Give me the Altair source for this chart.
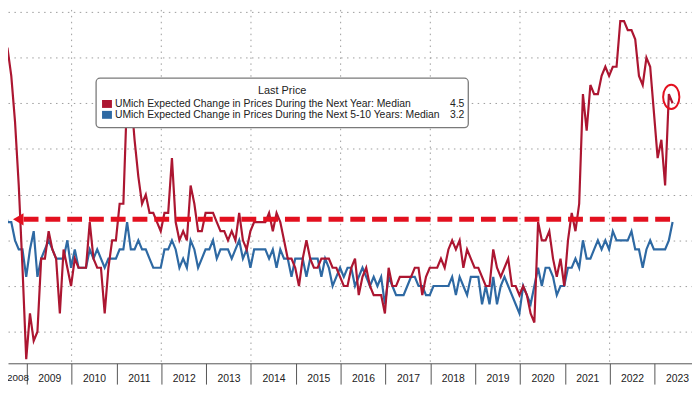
import altair as alt
import pandas as pd

# ---------------- data (monthly, May 2008 .. May 2023) ----------------
first_year, first_month = 2008, 5

next_year_median = [
    5.2, 5.1, 5.1, 4.8, 4.3, 3.6, 2.7, 1.7,                      # 2008 May-Dec
    2.2, 1.9, 2.0, 2.8, 2.8, 3.1, 2.9, 2.8, 2.2, 2.9, 2.7, 2.5,  # 2009
    2.8, 2.7, 2.7, 2.7, 3.2, 2.8, 2.7, 2.7, 2.2, 2.7, 3.0, 3.0,  # 2010
    3.4, 3.4, 4.6, 4.6, 4.1, 3.7, 3.4, 3.5, 3.3, 3.3, 3.2, 3.1,  # 2011
    3.3, 3.3, 3.9, 3.2, 3.0, 3.1, 3.0, 3.6, 3.4, 3.1, 3.1, 3.3,  # 2012
    3.3, 3.3, 3.2, 3.1, 3.1, 3.0, 3.1, 3.0, 3.3, 3.0, 2.9, 3.1,  # 2013
    3.2, 3.2, 3.2, 3.2, 3.3, 3.1, 3.3, 3.2, 3.0, 2.8, 2.8, 2.7,  # 2014
    2.5, 2.8, 3.0, 2.8, 2.7, 2.7, 2.8, 2.8, 2.8, 2.7, 2.7, 2.6,  # 2015
    2.5, 2.5, 2.7, 2.8, 2.4, 2.6, 2.7, 2.5, 2.4, 2.4, 2.4, 2.2,  # 2016
    2.7, 2.5, 2.5, 2.6, 2.6, 2.6, 2.6, 2.7, 2.7, 2.4, 2.6, 2.7,  # 2017
    2.7, 2.7, 2.8, 2.7, 2.9, 3.0, 2.9, 3.0, 2.7, 2.9, 2.8, 2.7,  # 2018
    2.7, 2.6, 2.5, 2.5, 2.9, 2.7, 2.6, 2.7, 2.8, 2.5, 2.5, 2.4,  # 2019
    2.5, 2.4, 2.2, 2.1, 3.2, 3.0, 3.0, 3.1, 2.8, 2.6, 2.8, 2.5,  # 2020
    3.0, 3.3, 3.1, 3.4, 4.6, 4.2, 4.7, 4.6, 4.6, 4.8, 4.9, 4.8,  # 2021
    4.9, 4.9, 5.4, 5.4, 5.3, 5.3, 5.2, 4.8, 4.7, 5.0, 4.9, 4.4,  # 2022
    3.9, 4.1, 3.6, 4.6, 4.5,                                     # 2023 Jan-May
]

next_5_10_years_median = [
    3.4, 3.4, 3.2, 3.2, 3.0, 2.9, 2.9, 2.6,                      # 2008 May-Dec
    2.9, 3.1, 2.6, 2.8, 2.9, 3.0, 2.9, 2.8, 2.8, 2.8, 3.0, 2.7,  # 2009
    2.9, 2.7, 2.7, 2.7, 2.9, 2.8, 2.9, 2.8, 2.7, 2.8, 2.8, 2.8,  # 2010
    2.9, 2.9, 3.2, 2.9, 2.9, 3.0, 2.9, 2.9, 2.8, 2.7, 2.7, 2.7,  # 2011
    2.9, 2.9, 3.0, 2.9, 2.7, 2.8, 2.7, 3.0, 2.9, 2.7, 2.8, 2.9,  # 2012
    2.9, 3.0, 2.8, 2.9, 2.9, 2.9, 2.8, 2.9, 3.0, 2.8, 2.9, 2.7,  # 2013
    2.9, 2.9, 2.9, 2.9, 2.8, 2.9, 2.7, 2.9, 2.8, 2.8, 2.6, 2.8,  # 2014
    2.8, 2.8, 2.6, 2.8, 2.8, 2.8, 2.6, 2.8, 2.7, 2.5, 2.6, 2.7,  # 2015
    2.6, 2.7, 2.7, 2.5, 2.6, 2.7, 2.6, 2.5, 2.6, 2.5, 2.6, 2.3,  # 2016
    2.6, 2.5, 2.4, 2.4, 2.4, 2.5, 2.6, 2.6, 2.5, 2.5, 2.4, 2.4,  # 2017
    2.5, 2.5, 2.5, 2.5, 2.5, 2.6, 2.4, 2.6, 2.5, 2.4, 2.6, 2.6,  # 2018
    2.6, 2.3, 2.5, 2.3, 2.6, 2.3, 2.5, 2.6, 2.5, 2.4, 2.3, 2.2,  # 2019
    2.5, 2.4, 2.3, 2.5, 2.7, 2.5, 2.7, 2.7, 2.6, 2.4, 2.5, 2.5,  # 2020
    2.7, 2.7, 2.8, 2.7, 3.0, 2.8, 2.8, 2.9, 3.0, 2.9, 3.0, 2.9,  # 2021
    3.1, 3.0, 3.0, 3.0, 3.0, 3.1, 2.9, 2.9, 2.7, 2.9, 3.0, 2.9,  # 2022
    2.9, 2.9, 2.9, 3.0, 3.2,                                     # 2023 Jan-May
]

year_labels = list(range(2008, 2024))
grid_years = [2010, 2012, 2014, 2016, 2018, 2020, 2022]
grid_levels = [2.0, 2.5, 3.0, 3.5, 4.0, 4.5, 5.0, 5.5]

annotation_level = 3.23          # hand-drawn dashed line
annotation_start = 2008.81
annotation_end = 2023.35
circle_level = 4.57

series_names = [
    "UMich Expected Change in Prices During the Next Year: Median",
    "UMich Expected Change in Prices During the Next 5-10 Years: Median",
]

RED = "#AC1631"
BLUE = "#2E69A3"
ANNOT = "#E3101F"
GRID = "#9c9c9c"
FONT = "Liberation Sans"

W, H = 691, 357

# ---------------- tables ----------------
rows = []
for i, (r, b) in enumerate(zip(next_year_median, next_5_10_years_median)):
    m = (first_month - 1) + i
    year = first_year + m // 12
    month = m % 12 + 1
    rows.append({"t": year + (month - 0.15) / 12, "red": r, "blue": b})
df = pd.DataFrame(rows)
last_t = df["t"].iloc[-1]

xscale = alt.Scale(domain=[2008.581, 2023.837], nice=False, zero=False)
yscale = alt.Scale(domain=[1.654, 5.522], nice=False, zero=False)

x_axis = alt.Axis(
    values=year_labels, grid=False, title=None, format="d",
    tickSize=21, tickColor="#555555", tickWidth=1,
    domainColor="#555555", domainWidth=1,
    labelOffset=22.7, labelPadding=-11, labelFontSize=10.5, labelFont=FONT,
    labelColor="#222222", labelFlush=False, labelOverlap=False, labelBound=False,
)
y_axis = alt.Axis(
    values=grid_levels, grid=True, gridColor=GRID, gridDash=[1.5, 4.5], gridWidth=1,
    labels=False, ticks=False, domain=False, title=None,
)


def X(field):
    return alt.X(field, type="quantitative", scale=xscale, axis=x_axis)


def Y(field):
    return alt.Y(field, type="quantitative", scale=yscale, axis=y_axis)


vgrid = alt.Chart(pd.DataFrame({"t": grid_years})).mark_rule(
    color=GRID, strokeDash=[1.5, 4.5], strokeWidth=1
).encode(x=X("t"))

blue_line = alt.Chart(df).mark_line(color=BLUE, strokeWidth=2.2, clip=True).encode(
    x=X("t"), y=Y("blue"),
)
red_line = alt.Chart(df).mark_line(color=RED, strokeWidth=2.2, clip=True).encode(
    x=X("t"), y=Y("red"),
)

dash_df = pd.DataFrame({"t0": [annotation_start + 0.12], "t1": [annotation_end], "v": [annotation_level]})
dashed = alt.Chart(dash_df).mark_rule(color=ANNOT, strokeWidth=5, strokeDash=[15, 7]).encode(
    x=X("t0"), x2="t1:Q", y=Y("v"),
)
arrow = alt.Chart(pd.DataFrame({"t": [annotation_start], "v": [annotation_level]})).mark_point(
    shape="triangle-left", filled=True, color=ANNOT, size=150, opacity=1
).encode(x=X("t"), y=Y("v"))

ellipse = "M0,-1 A0.67,1 0 1,1 0,1 A0.67,1 0 1,1 0,-1 Z"
ring = alt.Chart(pd.DataFrame({"t": [last_t - 0.03], "v": [circle_level]})).mark_point(
    shape=ellipse, filled=False, color=ANNOT, strokeWidth=2, size=600, opacity=1
).encode(x=X("t"), y=Y("v"))

# first year label: its slot lies left of the visible domain, so it is pinned
# to the left edge of the frame, as in the source image
first_label = alt.Chart(pd.DataFrame({"lab": [str(year_labels[0])]})).mark_text(
    font=FONT, fontSize=10, color="#222222", align="left", baseline="top"
).encode(x=alt.value(-1), y=alt.value(H + 10), text="lab:N")

one = pd.DataFrame({"a": [0]})
legend_box = alt.Chart(one).mark_rect(
    fill="white", stroke="#7a7a7a", strokeWidth=1.3, cornerRadius=4
).encode(x=alt.value(89), x2=alt.value(465), y=alt.value(69), y2=alt.value(119))
legend_title = alt.Chart(one).mark_text(
    font=FONT, fontSize=11, color="#222222", align="center", baseline="middle"
).encode(x=alt.value(277), y=alt.value(82), text=alt.value("Last Price"))
sq_red = alt.Chart(one).mark_rect(fill=RED).encode(
    x=alt.value(95), x2=alt.value(105), y=alt.value(91), y2=alt.value(99))
sq_blue = alt.Chart(one).mark_rect(fill=BLUE).encode(
    x=alt.value(95), x2=alt.value(105), y=alt.value(102), y2=alt.value(110))
lab1 = alt.Chart(one).mark_text(
    font=FONT, fontSize=10.5, color="#222222", align="left", baseline="middle"
).encode(x=alt.value(108), y=alt.value(95), text=alt.value(series_names[0]))
lab2 = alt.Chart(one).mark_text(
    font=FONT, fontSize=10.5, color="#222222", align="left", baseline="middle"
).encode(x=alt.value(108), y=alt.value(106.5), text=alt.value(series_names[1]))
val1 = alt.Chart(one).mark_text(
    font=FONT, fontSize=10.5, color="#222222", align="right", baseline="middle"
).encode(x=alt.value(461), y=alt.value(95), text=alt.value(f"{next_year_median[-1]:.1f}"))
val2 = alt.Chart(one).mark_text(
    font=FONT, fontSize=10.5, color="#222222", align="right", baseline="middle"
).encode(x=alt.value(461), y=alt.value(106.5), text=alt.value(f"{next_5_10_years_median[-1]:.1f}"))

chart = alt.layer(
    vgrid, blue_line, red_line, dashed, arrow, ring, first_label,
    legend_box, legend_title, sq_red, sq_blue, lab1, lab2, val1, val2,
).properties(
    width=W, height=H,
    autosize=alt.AutoSizeParams(type="none"),
    padding={"left": 0, "top": 0, "right": 0, "bottom": 21},
    background="white",
).configure_view(strokeWidth=0)

chart.save("out.html", embed_options={"renderer": "svg", "actions": False})
